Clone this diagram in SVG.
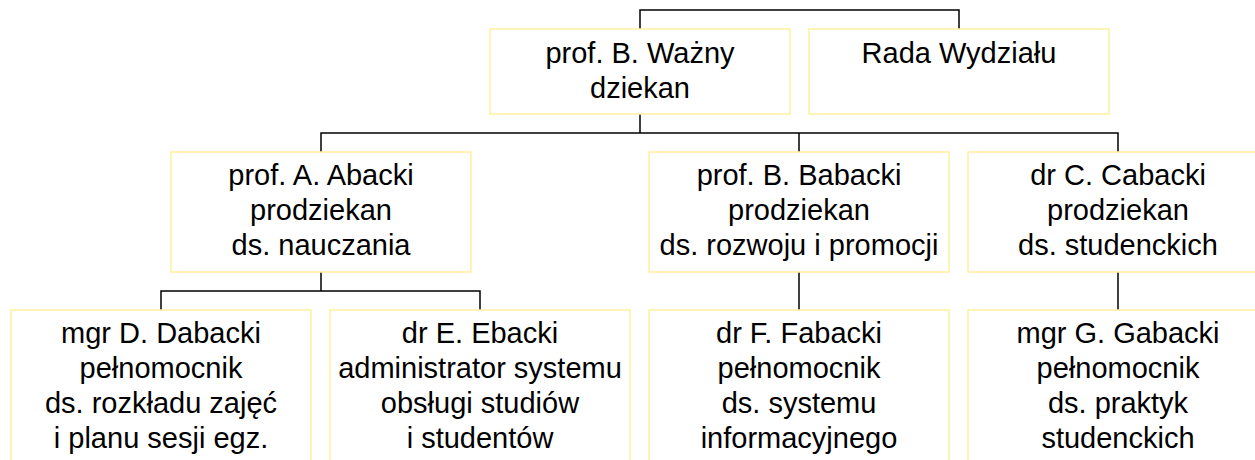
<svg xmlns="http://www.w3.org/2000/svg" width="1255" height="460" viewBox="0 0 1255 460">
<style>
.box{fill:#fff;stroke:#FFEF9E;stroke-width:1.5}
.t{font-family:"Liberation Sans",Arial,sans-serif;font-size:29px;fill:#000;text-anchor:middle}
.c{fill:none;stroke:#000;stroke-width:1.5}
</style>
<rect width="1255" height="460" fill="#fff"/>
<g id="connectors">
<path class="c" d="M640 29V10H959V29"/>
<path class="c" d="M640 114V133M321 152V133H1118V152M799 133V152"/>
<path class="c" d="M321 272V291M161 310V291H480V310"/>
<path class="c" d="M799 272V310"/>
<path class="c" d="M1118 272V310"/>
</g>
<g id="dziekan"><rect class="box" x="490" y="29" width="300" height="85"/>
<text class="t" x="640" y="63">prof. B. Ważny</text><text class="t" x="640" y="98">dziekan</text></g>
<g id="rada"><rect class="box" x="809" y="29" width="300" height="85"/>
<text class="t" x="959" y="63">Rada Wydziału</text></g>
<g id="abacki"><rect class="box" x="171" y="152" width="300" height="120"/>
<text class="t" x="321" y="185">prof. A. Abacki</text><text class="t" x="321" y="220">prodziekan</text><text class="t" x="321" y="255">ds. nauczania</text></g>
<g id="babacki"><rect class="box" x="649" y="152" width="300" height="120"/>
<text class="t" x="799" y="185">prof. B. Babacki</text><text class="t" x="799" y="220">prodziekan</text><text class="t" x="799" y="255">ds. rozwoju i promocji</text></g>
<g id="cabacki"><rect class="box" x="968" y="152" width="300" height="120"/>
<text class="t" x="1118" y="185">dr C. Cabacki</text><text class="t" x="1118" y="220">prodziekan</text><text class="t" x="1118" y="255">ds. studenckich</text></g>
<g id="dabacki"><rect class="box" x="11" y="310" width="300" height="170"/>
<text class="t" x="161" y="343">mgr D. Dabacki</text><text class="t" x="161" y="378">pełnomocnik</text><text class="t" x="161" y="413">ds. rozkładu zajęć</text><text class="t" x="161" y="448">i planu sesji egz.</text></g>
<g id="ebacki"><rect class="box" x="330" y="310" width="300" height="170"/>
<text class="t" x="480" y="343">dr E. Ebacki</text><text class="t" x="480" y="378">administrator systemu</text><text class="t" x="480" y="413">obsługi studiów</text><text class="t" x="480" y="448">i studentów</text></g>
<g id="fabacki"><rect class="box" x="649" y="310" width="300" height="170"/>
<text class="t" x="799" y="343">dr F. Fabacki</text><text class="t" x="799" y="378">pełnomocnik</text><text class="t" x="799" y="413">ds. systemu</text><text class="t" x="799" y="448">informacyjnego</text></g>
<g id="gabacki"><rect class="box" x="968" y="310" width="300" height="170"/>
<text class="t" x="1118" y="343">mgr G. Gabacki</text><text class="t" x="1118" y="378">pełnomocnik</text><text class="t" x="1118" y="413">ds. praktyk</text><text class="t" x="1118" y="448">studenckich</text></g>
</svg>
